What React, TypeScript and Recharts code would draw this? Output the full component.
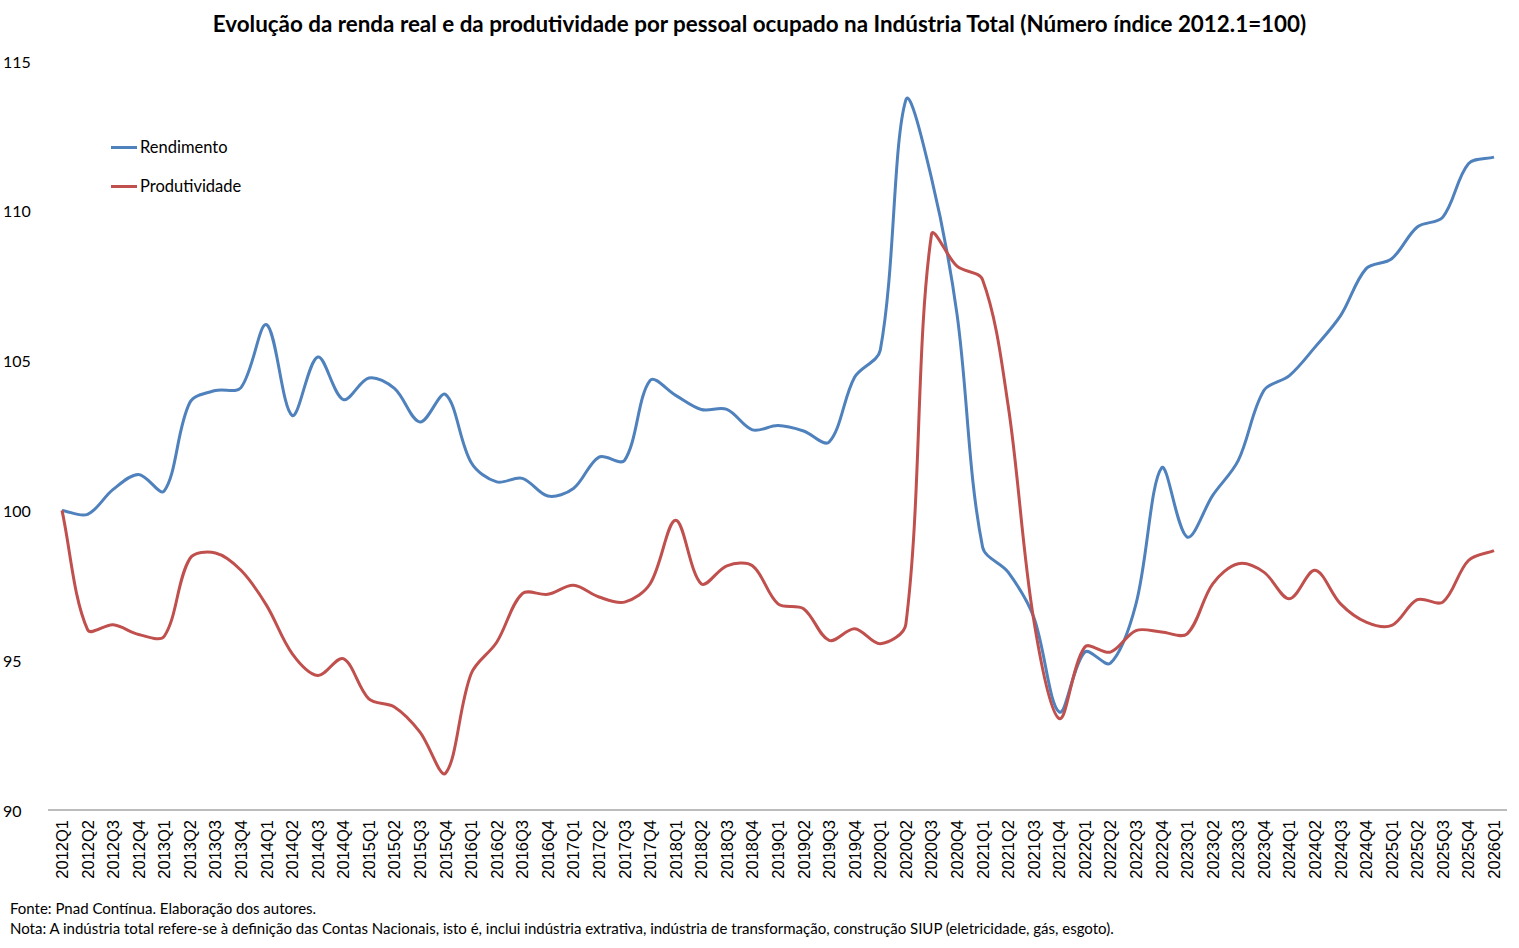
import React from "react";
import { Line, LineChart, XAxis, YAxis } from "recharts";

const quarters = [
  "2012Q1", "2012Q2", "2012Q3", "2012Q4",
  "2013Q1", "2013Q2", "2013Q3", "2013Q4",
  "2014Q1", "2014Q2", "2014Q3", "2014Q4",
  "2015Q1", "2015Q2", "2015Q3", "2015Q4",
  "2016Q1", "2016Q2", "2016Q3", "2016Q4",
  "2017Q1", "2017Q2", "2017Q3", "2017Q4",
  "2018Q1", "2018Q2", "2018Q3", "2018Q4",
  "2019Q1", "2019Q2", "2019Q3", "2019Q4",
  "2020Q1", "2020Q2", "2020Q3", "2020Q4",
  "2021Q1", "2021Q2", "2021Q3", "2021Q4",
  "2022Q1", "2022Q2", "2022Q3", "2022Q4",
  "2023Q1", "2023Q2", "2023Q3", "2023Q4",
  "2024Q1", "2024Q2", "2024Q3", "2024Q4",
  "2025Q1", "2025Q2", "2025Q3", "2025Q4",
  "2026Q1",
];

const rendimento = [
  100.0, 99.87, 100.7, 101.2,
  100.65, 103.6, 104.0, 104.1,
  106.2, 103.17, 105.12, 103.7,
  104.42, 104.07, 102.95, 103.87,
  101.6, 100.95, 101.07, 100.48,
  100.73, 101.78, 101.67, 104.34,
  103.84, 103.37, 103.37, 102.69,
  102.83, 102.65, 102.28, 104.45,
  105.35, 113.7, 111.1, 106.55,
  98.78, 97.94, 96.44, 93.27,
  95.27, 94.9, 96.88, 101.42,
  99.11, 100.5, 101.67, 104.0,
  104.5, 105.45, 106.5, 108.07,
  108.4, 109.46, 109.79, 111.57,
  111.79,
];

const produtividade = [
  100.0, 96.02, 96.18, 95.86,
  95.8, 98.39, 98.58, 98.0,
  96.83, 95.22, 94.49, 95.05,
  93.71, 93.44, 92.6, 91.23,
  94.55, 95.6, 97.22, 97.2,
  97.5, 97.11, 96.94, 97.55,
  99.67, 97.55, 98.15, 98.15,
  96.88, 96.72, 95.66, 96.05,
  95.55, 96.2, 109.2, 108.15,
  107.7, 103.5, 96.35, 93.05,
  95.44, 95.27, 95.99, 95.94,
  95.88, 97.55, 98.22, 97.94,
  97.05, 98.0, 96.88, 96.27,
  96.16, 97.02, 96.94, 98.33,
  98.66,
];

const yTicks = [90, 95, 100, 105, 110, 115];

const BLUE = "#4F81BD";
const RED = "#C0504D";
const FONT = "Lato, 'Open Sans', sans-serif";

const series = [
  { key: "rendimento", name: "Rendimento", color: BLUE },
  { key: "produtividade", name: "Produtividade", color: RED },
];

const data = quarters.map((q, i) => ({
  q,
  rendimento: rendimento[i],
  produtividade: produtividade[i],
}));

// Excel-like smoothing: bezier handles along the neighbour chord,
// split in proportion to the adjacent segment lengths
function excelSmooth(context: any) {
  let pts: number[][] = [];
  const dist = (a: number[], b: number[]) => Math.hypot(b[0] - a[0], b[1] - a[1]);
  return {
    areaStart() {},
    areaEnd() {},
    lineStart() {
      pts = [];
    },
    point(x: number, y: number) {
      pts.push([+x, +y]);
    },
    lineEnd() {
      const n = pts.length;
      if (!n) return;
      // in/out handles per point
      const hIn: number[][] = [];
      const hOut: number[][] = [];
      for (let i = 0; i < n; i++) {
        const p = pts[i];
        const a = pts[i - 1] || p;
        const b = pts[i + 1] || p;
        const da = dist(a, p);
        const db = dist(p, b);
        const s = da + db || 1;
        const tx = b[0] - a[0];
        const ty = b[1] - a[1];
        hIn.push([p[0] - (tx * da) / s / 3, p[1] - (ty * da) / s / 3]);
        hOut.push([p[0] + (tx * db) / s / 3, p[1] + (ty * db) / s / 3]);
      }
      context.moveTo(pts[0][0], pts[0][1]);
      for (let i = 0; i < n - 1; i++) {
        context.bezierCurveTo(hOut[i][0], hOut[i][1], hIn[i + 1][0], hIn[i + 1][1], pts[i + 1][0], pts[i + 1][1]);
      }
    },
  };
}

const XTick = ({ x, y, payload }: any) => (
  <text
    x={x}
    y={y + 2}
    transform={`rotate(-90 ${x} ${y + 2})`}
    textAnchor="end"
    dominantBaseline="central"
    fontFamily="'Liberation Sans', Arial, sans-serif"
    fontSize={16.5}
    fill="#000"
  >
    {payload.value}
  </text>
);

const YTick = ({ y, payload }: any) => (
  <text x={3} y={y} dominantBaseline="central" fontFamily={FONT} fontSize={16} fill="#000">
    {payload.value}
  </text>
);

export default function App() {
  return (
    <div style={{ position: "absolute", left: 0, top: 0, width: 1519, height: 948, background: "#fff" }}>
      <div
        style={{
          position: "absolute",
          top: 10,
          left: 0,
          width: 1519,
          textAlign: "center",
          fontFamily: FONT,
          fontWeight: 700,
          fontSize: 22.4,
          color: "#000",
        }}
      >
        Evolução da renda real e da produtividade por pessoal ocupado na Indústria Total (Número índice 2012.1=100)
      </div>

      <LineChart
        width={1519}
        height={948}
        data={data}
        margin={{ top: 61, right: 12, bottom: 68, left: 0 }}
        style={{ position: "absolute", left: 0, top: 0 }}
      >
        <XAxis
          dataKey="q"
          interval={0}
          height={70}
          tickLine={false}
          axisLine={{ stroke: "#A6A6A6", strokeWidth: 1.5 }}
          padding={{ left: 14, right: 13 }}
          tick={<XTick />}
        />
        <YAxis
          domain={[90, 115]}
          ticks={yTicks}
          width={48}
          axisLine={false}
          tickLine={false}
          tick={<YTick />}
        />
        {series.map((s) => (
          <Line
            key={s.key}
            dataKey={s.key}
            name={s.name}
            type={excelSmooth as any}
            stroke={s.color}
            strokeWidth={3}
            dot={false}
            activeDot={false}
            isAnimationActive={false}
          />
        ))}
      </LineChart>

      <div
        style={{
          position: "absolute",
          left: 111,
          top: 136,
          fontFamily: FONT,
          fontSize: 16.5,
          color: "#000",
        }}
      >
        {series.map((s) => (
          <div key={s.key} style={{ display: "flex", alignItems: "center", height: 22, marginBottom: 17 }}>
            <span style={{ width: 26, height: 3, background: s.color, marginRight: 3 }} />
            <span>{s.name}</span>
          </div>
        ))}
      </div>

      <div
        style={{
          position: "absolute",
          left: 10,
          top: 898,
          fontFamily: FONT,
          fontSize: 15,
          lineHeight: "20px",
          color: "#000",
        }}
      >
        <div>Fonte: Pnad Contínua. Elaboração dos autores.</div>
        <div>
          Nota: A indústria total refere-se à definição das Contas Nacionais, isto é, inclui indústria extrativa, indústria de
          transformação, construção SIUP (eletricidade, gás, esgoto).
        </div>
      </div>
    </div>
  );
}
